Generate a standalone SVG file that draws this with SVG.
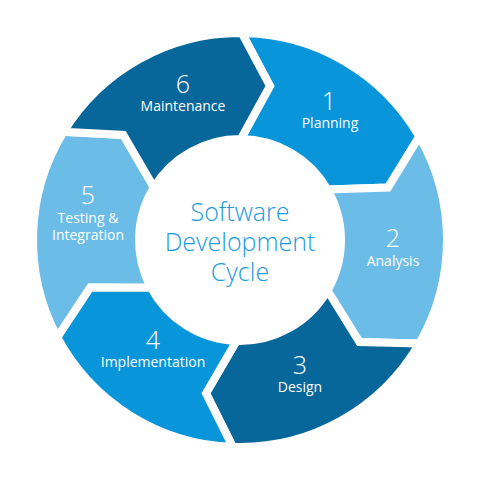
<svg xmlns="http://www.w3.org/2000/svg" width="481" height="480" viewBox="0 0 481 480">
<style>
.seg{stroke:#fff;stroke-width:8;stroke-linejoin:miter}
.mid{fill:#0995D9}
.light{fill:#6BBDE8}
.dark{fill:#07669A}
.num{font-family:"Open Sans","Liberation Sans",sans-serif;font-weight:300;font-size:25px;fill:#fff;text-anchor:middle}
.lbl{font-family:"Open Sans","Liberation Sans",sans-serif;font-size:14px;fill:#fff;text-anchor:middle}
.ctr{font-family:"Open Sans","Liberation Sans",sans-serif;font-weight:300;font-size:25px;fill:#1B9BDD;text-anchor:middle}
</style>
<rect width="481" height="480" fill="#fff"/>
<g id="segments">
<g id="seg1">
<path class="seg mid" d="M241.81,33.01 A207,207 0 0 1 419.27,136.5 L387.99,187.59 L327.47,189.5 A101,101 0 0 0 240.88,139 L269.96,85.88 Z"/>
<text class="num" x="329" y="110">1</text>
<text class="lbl" x="330" y="128">Planning</text>
</g>
<g id="seg2">
<path class="seg light" d="M419.27,136.5 A207,207 0 0 1 419.27,343.5 L359.38,341.96 L327.47,290.5 A101,101 0 0 0 327.47,189.5 L387.99,187.59 Z"/>
<text class="num" x="393" y="247">2</text>
<text class="lbl" x="393" y="266">Analysis</text>
</g>
<g id="seg3">
<path class="seg dark" d="M419.27,343.5 A207,207 0 0 1 232.78,446.87 L206.02,393.28 L236.48,340.94 A101,101 0 0 0 327.47,290.5 L359.38,341.96 Z"/>
<text class="num" x="300" y="374">3</text>
<text class="lbl" x="300" y="392">Design</text>
</g>
<g id="seg4">
<path class="seg mid" d="M232.78,446.87 A207,207 0 0 1 57.23,337.18 L90.27,287.21 L150.82,287.42 A101,101 0 0 0 236.48,340.94 L206.02,393.28 Z"/>
<text class="num" x="153" y="349">4</text>
<text class="lbl" x="153" y="367">Implementation</text>
</g>
<g id="seg5">
<path class="seg light" d="M57.23,337.18 A207,207 0 0 1 63.5,131.84 L123.33,134.95 L153.88,187.23 A101,101 0 0 0 150.82,287.42 L90.27,287.21 Z"/>
<text class="num" x="88" y="204">5</text>
<text class="lbl" x="88" y="223">Testing &amp;</text>
<text class="lbl" x="88" y="240">Integration</text>
</g>
<g id="seg6">
<path class="seg dark" d="M63.5,131.84 A207,207 0 0 1 241.81,33.01 L269.96,85.88 L240.88,139 A101,101 0 0 0 153.88,187.23 L123.33,134.95 Z"/>
<text class="num" x="183" y="93">6</text>
<text class="lbl" x="183" y="111">Maintenance</text>
</g>
</g>
<g id="center">
<text class="ctr" x="240" y="221">Software</text>
<text class="ctr" x="240" y="251">Development</text>
<text class="ctr" x="240" y="281">Cycle</text>
</g>
<g id="connectors"/>
</svg>
